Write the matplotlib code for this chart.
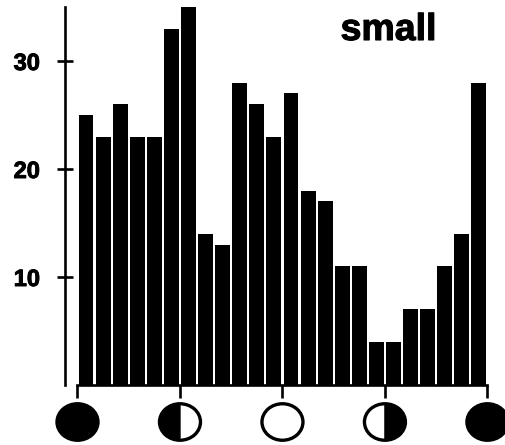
import matplotlib
matplotlib.use("Agg")
import matplotlib.pyplot as plt
import matplotlib.patheffects as pe
from matplotlib.patches import Ellipse, Wedge
from matplotlib.transforms import Affine2D

counts = [25, 23, 26, 23, 23, 33, 35, 14, 13, 28, 26, 23, 27, 18, 17, 11, 11, 4, 4, 7, 7, 11, 14, 28]
y_ticks = [10, 20, 30]
phase_pos = [0, 6, 12, 18, 24]
phase_dark = [(0, 360), (90, 270), None, (-90, 90), (0, 360)]

W, H = 505, 445
BAR_PX = 17.08
UNIT_PX = 10.8
X0, Y0 = 77.5, 385
MOON_W = 41 / BAR_PX
MOON_H = 36.5 / UNIT_PX
MOON_Y = -(422 - Y0) / UNIT_PX

plt.rcParams["font.family"] = ["Liberation Sans", "DejaVu Sans"]
fig = plt.figure(figsize=(W / 100, H / 100), dpi=100)
ax = fig.add_axes([0, 0, 1, 1])
ax.set_xlim(-X0 / BAR_PX, (W - X0) / BAR_PX)
ax.set_ylim(-(H - Y0) / UNIT_PX, Y0 / UNIT_PX)
ax.patch.set_visible(False)

ax.bar([i + 0.5 for i in range(len(counts))], counts, width=0.87, color="black")

for s in ["top", "right"]:
    ax.spines[s].set_visible(False)
ax.spines["left"].set_position(("data", (65 - X0) / BAR_PX))
ax.spines["left"].set_bounds(0, 35)
ax.spines["left"].set_linewidth(1.9)
ax.spines["bottom"].set_position(("data", 0))
ax.spines["bottom"].set_bounds(0, 24)
ax.spines["bottom"].set_linewidth(1.9)

ax.set_yticks(y_ticks)
ax.set_yticklabels([str(v) for v in y_ticks], fontsize=17, fontweight="bold")
ax.tick_params(axis="y", direction="inout", length=12, width=1.9, pad=12)
for lab in ax.get_yticklabels():
    lab.set_path_effects([pe.withStroke(linewidth=0.7, foreground="black")])
ax.set_xticks(phase_pos)
ax.set_xticklabels([])
ax.tick_params(axis="x", direction="out", length=9.5, width=1.9)

# moons are stretched sideways in the scan, so ellipses rather than markers
for x, dark in zip(phase_pos, phase_dark):
    ax.add_patch(Ellipse((x, MOON_Y), MOON_W, MOON_H, fc="white", ec="black", lw=2.4, clip_on=False, zorder=3))
    if dark:
        tr = Affine2D().scale(MOON_W / 2, MOON_H / 2).translate(x, MOON_Y) + ax.transData
        ax.add_patch(Wedge((0, 0), 1, dark[0], dark[1], fc="black", ec="black", lw=1, transform=tr,
                           clip_on=False, zorder=4))

txt = ax.text(388.5, H - 30, "small", transform=None, ha="center", va="center", fontsize=27, fontweight="bold")
txt.set_path_effects([pe.withStroke(linewidth=0.8, foreground="black")])

fig.savefig("out.png", dpi=100)
